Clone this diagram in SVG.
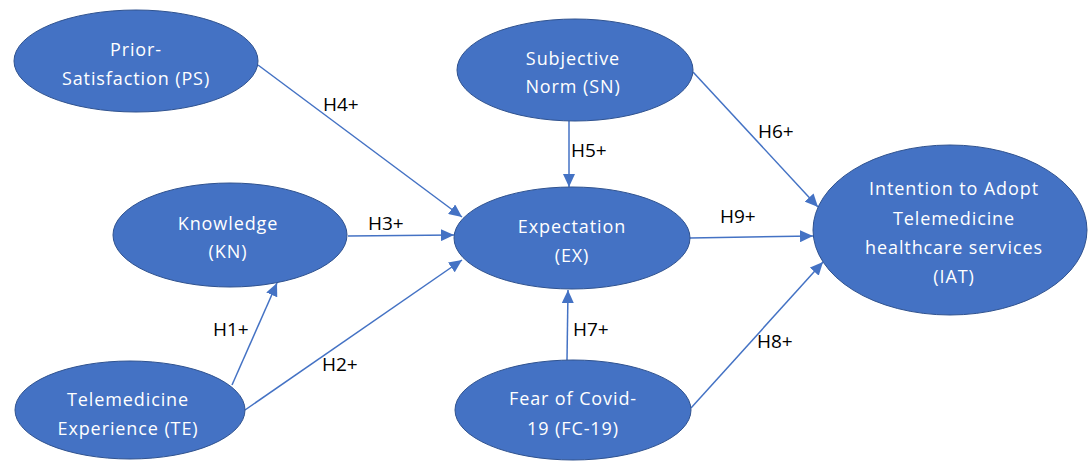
<svg xmlns="http://www.w3.org/2000/svg" width="1090" height="461" viewBox="0 0 1090 461">
<style>
.node ellipse{fill:#4472C4;stroke:#2F528F;stroke-width:1}
.node text{font-family:"Open Sans","Noto Sans","Liberation Sans",sans-serif;font-size:18px;fill:#FFFFFF;text-anchor:middle;letter-spacing:0.9px}
.edge{stroke:#4472C4;stroke-width:1.5;fill:none;marker-end:url(#arr)}
.lbl{font-family:"Open Sans","Noto Sans","Liberation Sans",sans-serif;font-size:19px;fill:#000000}
</style>
<defs>
<marker id="arr" markerUnits="userSpaceOnUse" markerWidth="14" markerHeight="12" refX="13" refY="6" orient="auto">
<path d="M0,0 L13,6 L0,12 Z" fill="#4472C4"/>
</marker>
</defs>
<rect width="1090" height="461" fill="#FFFFFF"/>
<g id="connectors">
<line class="edge" x1="258" y1="65" x2="462" y2="217"/>
<line class="edge" x1="348" y1="236" x2="454" y2="235"/>
<line class="edge" x1="232" y1="385" x2="277" y2="283"/>
<line class="edge" x1="245" y1="410" x2="462" y2="260"/>
<line class="edge" x1="569" y1="121" x2="569" y2="187"/>
<line class="edge" x1="567" y1="360" x2="568" y2="290"/>
<line class="edge" x1="693" y1="72" x2="818" y2="207"/>
<line class="edge" x1="690" y1="238" x2="813" y2="236"/>
<line class="edge" x1="691" y1="408" x2="823" y2="262"/>
<text class="lbl" x="323" y="111">H4+</text>
<text class="lbl" x="368" y="230">H3+</text>
<text class="lbl" x="213" y="336">H1+</text>
<text class="lbl" x="322" y="371">H2+</text>
<text class="lbl" x="571" y="157">H5+</text>
<text class="lbl" x="573" y="336">H7+</text>
<text class="lbl" x="758" y="138">H6+</text>
<text class="lbl" x="720" y="223">H9+</text>
<text class="lbl" x="757" y="348">H8+</text>
</g>
<g id="PS" class="node">
<ellipse cx="136" cy="61" rx="122" ry="51"/>
<text x="136" y="56">Prior-</text>
<text x="136" y="85">Satisfaction  (PS)</text>
</g>
<g id="SN" class="node">
<ellipse cx="575" cy="70" rx="118" ry="51"/>
<text x="573" y="65">Subjective</text>
<text x="573" y="93">Norm (SN)</text>
</g>
<g id="KN" class="node">
<ellipse cx="230" cy="235" rx="117" ry="52"/>
<text x="228" y="230">Knowledge</text>
<text x="228" y="258">(KN)</text>
</g>
<g id="EX" class="node">
<ellipse cx="572" cy="238" rx="118" ry="51"/>
<text x="572" y="233">Expectation</text>
<text x="572" y="262">(EX)</text>
</g>
<g id="IAT" class="node">
<ellipse cx="950" cy="230" rx="137" ry="85"/>
<text x="954" y="195">Intention to Adopt</text>
<text x="954" y="225">Telemedicine</text>
<text x="954" y="254">healthcare services</text>
<text x="954" y="283">(IAT)</text>
</g>
<g id="TE" class="node">
<ellipse cx="130" cy="410" rx="115" ry="49"/>
<text x="128" y="406">Telemedicine</text>
<text x="128" y="435">Experience (TE)</text>
</g>
<g id="FC" class="node">
<ellipse cx="573" cy="410" rx="118" ry="50"/>
<text x="573" y="405">Fear of Covid-</text>
<text x="573" y="435">19 (FC-19)</text>
</g>
</svg>
